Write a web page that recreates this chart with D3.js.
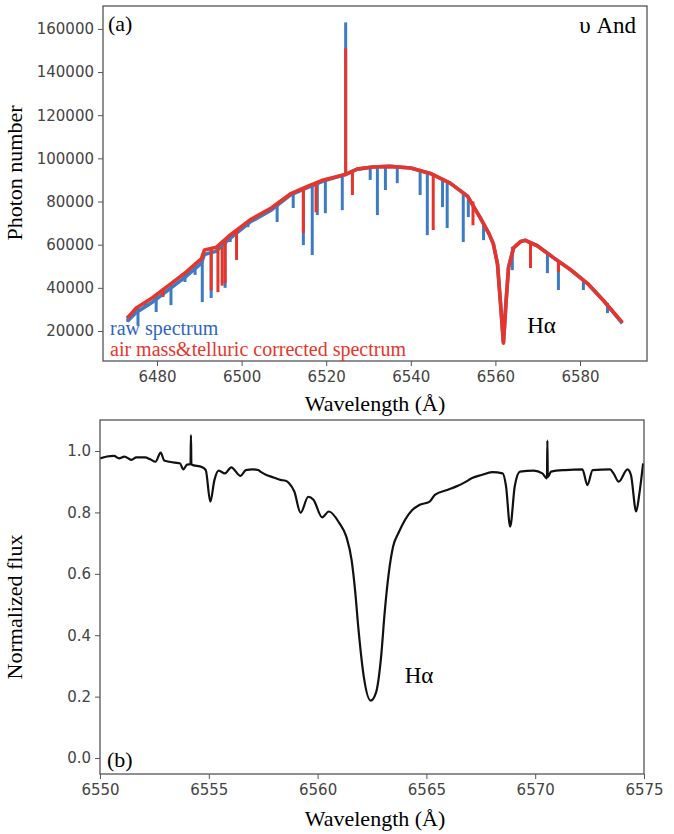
<!DOCTYPE html>
<html>
<head>
<meta charset="utf-8">
<script src="https://cdn.jsdelivr.net/npm/d3@7"></script>
<style>
  body { margin: 0; background: #fff; }
  .tick text { font-family: "DejaVu Sans", sans-serif; font-size: 15px; fill: #444; }
  .tick line { stroke: #555; }
</style>
</head>
<body>
<svg id="chart" width="674" height="834"></svg>
<script>
// ---- panel (a): continuum points [wavelength, photons] ----
const red_cont = [
  [6473.0, 26000], [6475.0, 30500], [6479.0, 35500], [6483.0, 41500], [6487.0, 47500],
  [6490.5, 53500], [6491.2, 57500], [6494.0, 58800], [6497.0, 64000], [6502.0, 71500],
  [6507.0, 77000], [6511.5, 83500], [6515.0, 86500], [6519.3, 90000], [6524.5, 92500],
  [6527.3, 95000], [6531.0, 96000], [6535.0, 96300], [6540.0, 95500], [6544.6, 93000],
  [6549.3, 88500], [6553.4, 82500], [6556.4, 72500], [6558.5, 65000], [6559.5, 60500],
  [6560.5, 51000], [6561.2, 33000], [6561.9, 14500], [6562.5, 33000], [6563.1, 49500],
  [6564.3, 58500], [6566.0, 61500], [6567.1, 62000], [6569.9, 59500], [6573.7, 54000],
  [6577.7, 48500], [6581.8, 42000], [6585.6, 34000], [6590.0, 24000]
];
const blue_cont = [
  [6473.0, 24500], [6475.0, 28500], [6479.0, 33500], [6483.0, 39500], [6487.0, 45500],
  [6490.5, 51500], [6491.2, 55500], [6494.0, 57000], [6497.0, 62500], [6502.0, 70500],
  [6507.0, 76000], [6511.5, 83000], [6515.0, 86000], [6519.3, 89500], [6524.5, 92500],
  [6527.3, 95000], [6531.0, 96000], [6535.0, 96300], [6540.0, 95500], [6544.6, 93000],
  [6549.3, 88500], [6553.4, 82500], [6556.4, 72500], [6558.5, 65000], [6559.5, 60500],
  [6560.5, 51000], [6561.2, 33000], [6561.9, 14500], [6562.5, 33000], [6563.1, 49500],
  [6564.3, 58500], [6566.0, 61500], [6567.1, 62000], [6569.9, 59500], [6573.7, 54000],
  [6577.7, 48500], [6581.8, 42000], [6585.6, 34000], [6590.0, 23500]
];
// absorption lines [wavelength, top, bottom]
const blue_dips = [
  [6473.1, 27000, 24200], [6475.5, 31000, 22800], [6477.2, 33000, 31100], [6479.8, 37000, 28800],
  [6481.4, 39500, 35700], [6483.3, 41500, 32000], [6486.6, 47000, 42700], [6489.0, 50500, 46000],
  [6490.7, 53000, 33400], [6492.8, 58000, 35300], [6496.1, 62000, 40000], [6497.3, 64000, 61200],
  [6501.5, 70500, 68100], [6508.4, 79000, 70500], [6512.2, 83500, 77000], [6514.6, 85500, 59800],
  [6516.7, 87500, 55200], [6517.9, 88500, 73700], [6519.8, 90000, 74600], [6523.8, 92000, 76000],
  [6530.4, 95800, 90000], [6532.1, 96000, 73700], [6534.0, 96200, 85300], [6536.8, 96200, 88500],
  [6542.2, 94500, 83000], [6543.9, 93500, 64400], [6547.5, 90500, 77400], [6548.6, 89500, 67700],
  [6552.4, 84500, 61200], [6553.6, 82500, 72800], [6557.2, 70000, 62100], [6564.0, 59000, 48200],
  [6572.3, 56000, 46800], [6574.9, 52000, 39000], [6580.8, 44000, 39000], [6586.5, 33000, 28300]
];
const red_dips = [
  [6481.4, 39500, 36000], [6492.8, 58000, 38900], [6494.4, 58500, 38000], [6495.4, 59000, 41000],
  [6496.1, 62000, 42200], [6498.8, 66500, 52900], [6514.6, 85500, 65400], [6517.6, 88000, 75000],
  [6526.2, 94000, 83000], [6545.3, 93000, 66800], [6554.7, 80000, 69000], [6568.3, 60500, 49200],
  [6574.9, 52000, 47300]
];
// emission spike [wavelength, base, peak]
const blue_spike = [6524.6, 93000, 163000];
const red_spike = [6524.6, 93000, 151000];

const a_xticks = [6480, 6500, 6520, 6540, 6560, 6580];
const a_yticks = [20000, 40000, 60000, 80000, 100000, 120000, 140000, 160000];

// ---- panel (b): normalized flux [wavelength, flux] ----
const norm_flux = [
  [6550.00, 0.976], [6550.32, 0.982], [6550.64, 0.984], [6550.88, 0.976], [6551.12, 0.982],
  [6551.44, 0.971], [6551.67, 0.979], [6552.07, 0.979], [6552.31, 0.973], [6552.55, 0.965],
  [6552.79, 0.995], [6552.95, 0.969], [6553.19, 0.965], [6553.43, 0.962], [6553.67, 0.960],
  [6553.83, 0.940], [6553.99, 0.955], [6554.16, 0.958], [6554.18, 1.052], [6554.20, 0.956],
  [6554.70, 0.947], [6554.86, 0.938], [6555.07, 0.835], [6555.26, 0.906], [6555.45, 0.936],
  [6555.74, 0.927], [6556.03, 0.947], [6556.46, 0.919], [6556.70, 0.938], [6557.02, 0.940],
  [6557.26, 0.938], [6557.37, 0.933], [6557.65, 0.922], [6557.97, 0.914], [6558.29, 0.906],
  [6558.53, 0.903], [6558.69, 0.895], [6558.93, 0.868], [6559.22, 0.799], [6559.57, 0.851],
  [6559.81, 0.841], [6560.21, 0.784], [6560.52, 0.803], [6561.00, 0.765], [6561.32, 0.721],
  [6561.56, 0.646], [6561.72, 0.548], [6561.88, 0.418], [6562.12, 0.266], [6562.44, 0.187],
  [6562.68, 0.212], [6562.92, 0.331], [6563.08, 0.472], [6563.27, 0.602], [6563.47, 0.689],
  [6563.71, 0.732], [6564.35, 0.808], [6564.67, 0.824], [6565.15, 0.835], [6565.39, 0.857],
  [6565.95, 0.873], [6566.35, 0.884], [6566.74, 0.897], [6567.10, 0.912], [6567.54, 0.922],
  [6568.02, 0.931], [6568.50, 0.927], [6568.66, 0.885], [6568.85, 0.754], [6569.06, 0.885],
  [6569.30, 0.933], [6569.93, 0.936], [6570.33, 0.927], [6570.54, 0.911], [6570.56, 1.034],
  [6570.58, 0.915], [6570.73, 0.933], [6571.37, 0.938], [6572.17, 0.940], [6572.40, 0.889],
  [6572.64, 0.938], [6573.44, 0.940], [6573.60, 0.927], [6573.84, 0.900], [6574.24, 0.940],
  [6574.40, 0.922], [6574.64, 0.803], [6574.80, 0.868], [6574.96, 0.960]
];
const b_xticks = [6550, 6555, 6560, 6565, 6570, 6575];
const b_yticks = [0.0, 0.2, 0.4, 0.6, 0.8, 1.0];

const BLUE = "#3d7cc4", RED = "#e8352b";
const SERIF = "'Liberation Serif', 'Times New Roman', serif";

const svg = d3.select("#chart");

function frame(g, w, h) {
    g.append("rect")
        .attr("width", w).attr("height", h)
        .attr("fill", "none").attr("stroke", "#555").attr("stroke-width", 1.3);
}

function label(g, x, y, size, txt, color = "#000", anchor = "start") {
    return g.append("text")
        .attr("x", x).attr("y", y)
        .attr("font-family", SERIF).attr("font-size", size)
        .attr("fill", color).attr("text-anchor", anchor)
        .text(txt);
}

// ================= panel (a) =================
const A = { left: 103, top: 6, width: 544, height: 355 };
const ga = svg.append("g").attr("transform", `translate(${A.left},${A.top})`);
const xa = d3.scaleLinear().domain([6467.23, 6595.84]).range([0, A.width]);
const ya = d3.scaleLinear().domain([6100, 170600]).range([A.height, 0]);

ga.append("g").attr("transform", `translate(0,${A.height})`)
    .call(d3.axisBottom(xa).tickValues(a_xticks).tickFormat(d3.format("d")).tickSize(5).tickPadding(5))
    .call(s => s.select(".domain").remove());
ga.append("g")
    .call(d3.axisLeft(ya).tickValues(a_yticks).tickFormat(d3.format("d")).tickSize(5).tickPadding(4))
    .call(s => s.select(".domain").remove());

const line_a = d3.line().x(d => xa(d[0])).y(d => ya(d[1]));

const draw_series = (cont, dips, spike, color) => {
    ga.append("path").datum(cont)
        .attr("d", line_a).attr("fill", "none")
        .attr("stroke", color).attr("stroke-width", 3.6).attr("stroke-linejoin", "round");
    ga.append("g").selectAll("line").data(dips.concat([spike]))
        .enter().append("line")
        .attr("x1", d => xa(d[0])).attr("x2", d => xa(d[0]))
        .attr("y1", d => ya(d[1])).attr("y2", d => ya(d[2]))
        .attr("stroke", color).attr("stroke-width", 3);
};
draw_series(blue_cont, blue_dips, blue_spike, BLUE);
draw_series(red_cont, red_dips, red_spike, RED);

frame(ga, A.width, A.height);

label(ga, 5, 25, 22, "(a)");
label(ga, A.width - 11, 27, 23, "υ And", "#000", "end");
label(ga, xa(6567.5), 327, 23, "Hα");
label(ga, 7, 329, 20, "raw spectrum", "#2f66c2");
label(ga, 7, 350, 20, "air mass&telluric corrected spectrum", RED);

label(svg, 375, 411, 22, "Wavelength (Å)", "#000", "middle");
label(svg, 0, 0, 22, "Photon number", "#000", "middle")
    .attr("transform", "translate(22,173) rotate(-90)");

// ================= panel (b) =================
const B = { left: 100, top: 420, width: 544, height: 354 };
const gb = svg.append("g").attr("transform", `translate(${B.left},${B.top})`);
const xb = d3.scaleLinear().domain([6550, 6575]).range([0, B.width]);
const yb = d3.scaleLinear().domain([-0.052, 1.101]).range([B.height, 0]);

gb.append("g").attr("transform", `translate(0,${B.height})`)
    .call(d3.axisBottom(xb).tickValues(b_xticks).tickFormat(d3.format("d")).tickSize(5).tickPadding(5))
    .call(s => s.select(".domain").remove());
gb.append("g")
    .call(d3.axisLeft(yb).tickValues(b_yticks).tickFormat(d3.format(".1f")).tickSize(5).tickPadding(4))
    .call(s => s.select(".domain").remove());

gb.append("path").datum(norm_flux)
    .attr("d", d3.line().curve(d3.curveMonotoneX).x(d => xb(d[0])).y(d => yb(d[1])))
    .attr("fill", "none").attr("stroke", "#111").attr("stroke-width", 2.2)
    .attr("stroke-linejoin", "round");

frame(gb, B.width, B.height);

label(gb, 7, 347, 22, "(b)");
label(gb, xb(6564.0), 263, 23, "Hα");

label(svg, 375, 826, 22, "Wavelength (Å)", "#000", "middle");
label(svg, 0, 0, 22, "Normalized flux", "#000", "middle")
    .attr("transform", "translate(22,607) rotate(-90)");
</script>
</body>
</html>
